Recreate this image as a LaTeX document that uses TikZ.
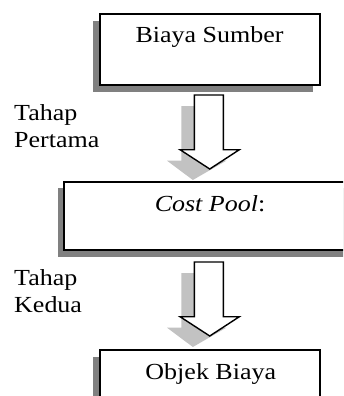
\documentclass[tikz,border=0pt]{standalone}
\usepackage{fontspec}
\setmainfont[FakeStretch=1.13]{Liberation Serif}
\usetikzlibrary{shadows,calc}
\begin{document}
\begin{tikzpicture}[x=1pt,y=-1pt,
  box/.style={draw=black, line width=2pt, fill=white, inner sep=0pt,
    general shadow={shadow xshift=-6.7pt, shadow yshift=-6.5pt, fill=black!50}},
  lbl/.style={font=\fontsize{23}{25}\selectfont, inner sep=0pt, text=black},
  arr/.style={draw=black, line width=1.4pt, fill=white, line join=miter},
  arrshadow/.style={fill=black!24},
  blockarrow/.pic={
    \fill[arrshadow] (-27.5,11) -- (1.5,11) -- (1.5,65.7) -- (17.5,65.7) -- (-16,85) -- (-41.8,65.7) -- (-27.5,65.7) -- cycle;
    \draw[arr] (-14.5,0) -- (14.5,0) -- (14.5,54.7) -- (30.5,54.7) -- (0.9,74) -- (-28.8,54.7) -- (-14.5,54.7) -- cycle;
  }]
\useasboundingbox (0,0) rectangle (343,396);
\clip (0,0) rectangle (343,396);
% boxes
\node[box, minimum width=219.7pt, minimum height=70.7pt] (b1) at (209.85,49.65) {};
\node[box, minimum width=290pt, minimum height=68.2pt] (b2) at (209.2,215.9) {};
\node[box, minimum width=219.7pt, minimum height=80pt] (b3) at (209.85,390) {};
% box texts
\node[lbl, anchor=base] (t1) at (209.5,43) {Biaya Sumber};
\node[lbl, anchor=base] (t2) at (210,211.7) {\textit{Cost Pool}:};
\node[lbl, anchor=base] (t3) at (210.8,379) {Objek Biaya};
% stage labels
\node[lbl, anchor=base west] (s1a) at (14,120) {Tahap};
\node[lbl, anchor=base west] (s1b) at (14,147.7) {Pertama};
\node[lbl, anchor=base west] (s2a) at (14,285) {Tahap};
\node[lbl, anchor=base west] (s2b) at (14,312.7) {Kedua};
% block arrows (connectors)
\pic at ($(b1.south)+(-1,9)$) {blockarrow};
\pic at ($(b1.south |- b2.south)+(-1,11)$) {blockarrow};
\end{tikzpicture}
\end{document}
